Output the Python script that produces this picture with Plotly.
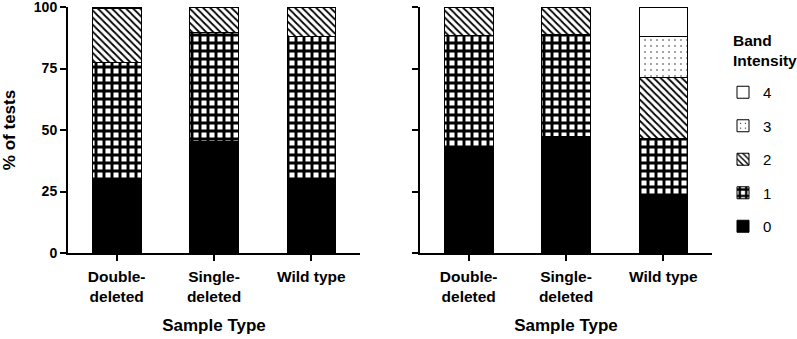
import plotly.graph_objects as go

# ---- data ----
categories = ["Double-<br>deleted", "Single-<br>deleted", "Wild type"]
band_labels = ["0", "1", "2", "3", "4"]

left_band0 = [30.4, 45.2, 29.3]
left_band1 = [47.1, 44.5, 58.9]
left_band2 = [21.9, 10.3, 11.8]
left_band3 = [0.6, 0.0, 0.0]
left_band4 = [0.0, 0.0, 0.0]

right_band0 = [42.8, 47.3, 23.8]
right_band1 = [45.5, 41.7, 22.8]
right_band2 = [11.7, 11.0, 24.7]
right_band3 = [0.0, 0.0, 16.6]
right_band4 = [0.0, 0.0, 12.1]

y_ticks = [0, 25, 50, 75, 100]

left_data = [left_band0, left_band1, left_band2, left_band3, left_band4]
right_data = [right_band0, right_band1, right_band2, right_band3, right_band4]

# ---- styles ----
patterns = [
    dict(shape=""),
    dict(shape="+", size=8, solidity=0.6, fgcolor="black", bgcolor="white"),
    dict(shape="\\", size=5, solidity=0.35, fgcolor="black", bgcolor="white"),
    dict(shape=".", size=6, solidity=0.06, fgcolor="#333333", bgcolor="white"),
    dict(shape=""),
]
colors = ["black", "white", "white", "white", "white"]

FONT = "Liberation Sans, Arial, sans-serif"

fig = go.Figure()
for i, lab in enumerate(band_labels):
    for side, data, xa, ya in [("L", left_data, "x", "y"), ("R", right_data, "x2", "y2")]:
        fig.add_trace(go.Bar(
            x=categories, y=data[i], name=lab,
            xaxis=xa, yaxis=ya,
            width=0.5,
            marker=dict(color=colors[i], pattern=patterns[i],
                        line=dict(color="black", width=1)),
            legendgroup=lab, legendrank=10 - i,
            showlegend=(side == "L"),
            hoverinfo="skip",
        ))

W, H = 797, 339
TOP, BOTTOM = 7, 253
axis_common = dict(showline=True, linecolor="black", linewidth=2, ticks="outside",
                   ticklen=6, tickwidth=2, tickcolor="black", showgrid=False,
                   zeroline=False, automargin=False, ticklabeloverflow="allow")

xcommon = dict(axis_common, type="category", range=[-0.5, 2.5],
               ticklabelstandoff=2,
               tickfont=dict(family=FONT, size=15.5, color="black", weight="bold"),
               title=dict(text="<b>Sample Type</b>", standoff=15,
                          font=dict(family=FONT, size=17, color="black")))
ycommon = dict(axis_common, range=[0, 100], tickvals=y_ticks,
               tickfont=dict(family=FONT, size=14, color="black", weight="bold"))

fig.update_layout(
    width=W, height=H,
    margin=dict(l=0, r=0, t=TOP, b=H - BOTTOM, autoexpand=False),
    barmode="stack",
    plot_bgcolor="white", paper_bgcolor="white",
    template="none",
    xaxis=dict(xcommon, domain=[68 / W, 360 / W], anchor="y"),
    xaxis2=dict(xcommon, domain=[420 / W, 712 / W], anchor="y2"),
    yaxis=dict(ycommon, anchor="x",
               title=dict(text="<b>% of tests</b>", standoff=16,
                          font=dict(family=FONT, size=17, color="black"))),
    yaxis2=dict(ycommon, anchor="x2", showticklabels=False),
    legend=dict(
        x=723 / W, xanchor="left",
        y=(BOTTOM - 76) / (BOTTOM - TOP), yanchor="top",
        traceorder="grouped", tracegroupgap=11,
        font=dict(family=FONT, size=15, color="black"),
        bgcolor="rgba(0,0,0,0)",
    ),
    annotations=[dict(
        text="<b>Band<br>Intensity</b>", xref="paper", yref="paper",
        x=731 / W, xanchor="left", y=(BOTTOM - 30) / (BOTTOM - TOP), yanchor="top",
        align="left", showarrow=False,
        font=dict(family=FONT, size=15.5, color="black"),
    )],
    showlegend=True,
)

fig.write_html("out.html", config={"displayModeBar": False},
               post_script="document.body.style.margin='0';")
